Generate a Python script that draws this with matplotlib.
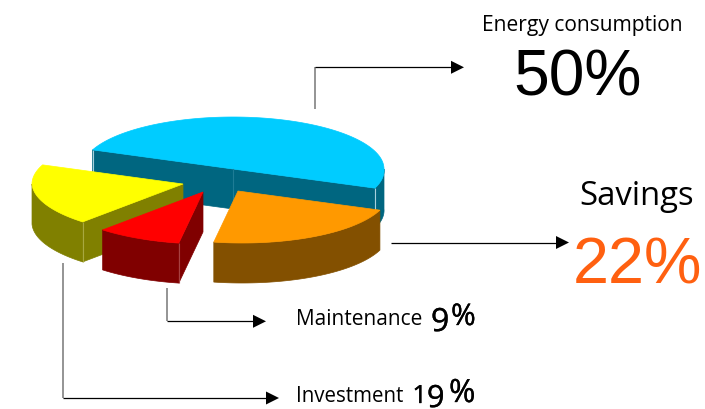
import numpy as np
import matplotlib
matplotlib.use('Agg')
import matplotlib.pyplot as plt
import matplotlib.patheffects as pe
from matplotlib.patches import Polygon

categories = ['Energy consumption', 'Investment', 'Maintenance', 'Savings']
shares = [50, 19, 9, 22]
top_colors = ['#00CCFF', '#FFFF00', '#FF0000', '#FF9900']
side_colors = ['#006680', '#808000', '#800000', '#835000']
seam_colors = ['#A6D0DC', '#A8A840', '#A84040', '#A88040']

# pie position, all in pixels
cx, cy = 233, 169
rx, ry = 151, 52
depth = 40
skew = 0.08
start_angle = -21.6
explode_x = [0, -50, -30, 5]
explode_y = [0, 15, 23, 22]


def rim(x0, y0, t):
    # point on the ellipse, the near half leans a little to the right
    t = np.radians(t)
    dy = -ry*np.sin(t)
    return x0 + rx*np.cos(t) + skew*np.maximum(dy, 0), y0 + dy


def arc(x0, y0, t0, t1, drop=0):
    x, y = rim(x0, y0, np.linspace(t0, t1, 120))
    return np.column_stack([x, y + drop])


def radial_face(ax, x0, y0, t, color, z):
    ex, ey = rim(x0, y0, t)
    pts = [(x0, y0), (ex, ey), (ex, ey + depth), (x0, y0 + depth)]
    ax.add_patch(Polygon(pts, closed=True, fc=color, ec=color, lw=0.5, zorder=z))


def wedge(ax, x0, y0, t0, t1, top, side, seam, z):
    # radial walls that face the viewer
    show_start = np.sin(np.radians(t0 - 90)) < 0
    show_end = np.sin(np.radians(t1 + 90)) < 0
    if show_start:
        radial_face(ax, x0, y0, t0, side, z)
    if show_end:
        radial_face(ax, x0, y0, t1, side, z)

    # outer wall, only the front half of the ellipse shows
    for lo, hi in [(-180, 0), (180, 360)]:
        a, b = max(t0, lo), min(t1, hi)
        if a < b:
            upper = arc(x0, y0, a, b)
            lower = arc(x0, y0, b, a, depth)
            ax.add_patch(Polygon(np.vstack([upper, lower]), closed=True,
                                 fc=side, ec=side, lw=0.5, zorder=z))

    # lighter seams down the wall corners
    for t, shown in ((t0, show_start), (t1, show_end)):
        if shown:
            ex, ey = rim(x0, y0, t)
            ax.plot([ex, ex], [ey, ey + depth], color=seam, lw=0.8,
                    solid_capstyle='butt', zorder=z)

    pts = np.vstack([[(x0, y0)], arc(x0, y0, t0, t1)])
    ax.add_patch(Polygon(pts, closed=True, fc=top, ec=top, lw=0.5, zorder=z))


def leader(ax, xs, ys):
    # grey riser, black run, solid triangle at the end
    if len(xs) == 3:
        ax.plot(xs[:2], ys[:2], color='#777777', lw=1.1, zorder=10,
                solid_capstyle='butt')
    ax.plot([xs[-2], xs[-1] - 10], ys[-2:], color='black', lw=0.9, zorder=10,
            solid_capstyle='butt')
    tx, ty = xs[-1], ys[-1]
    ax.add_patch(Polygon([(tx - 13, ty - 6.5), (tx, ty), (tx - 13, ty + 6.5)],
                         closed=True, fc='black', ec='none', zorder=10))


fig = plt.figure(figsize=(7.05, 4.09), dpi=100)
ax = fig.add_axes([0, 0, 1, 1])
ax.set_xlim(0, 705)
ax.set_ylim(409, 0)
ax.axis('off')

spans = np.array(shares) / sum(shares) * 360
angle = start_angle
for i in range(len(shares)):
    t0, t1 = angle, angle + spans[i]
    wedge(ax, cx + explode_x[i], cy + explode_y[i], t0, t1,
          top_colors[i], side_colors[i], seam_colors[i], i + 1)
    # the big wedge has a faint crease in the middle of its straight wall
    if i == 0:
        ax.plot([cx, cx], [cy, cy + depth], color='#1F7C95', lw=0.8, zorder=1)
    angle = t1

leader(ax, [315, 315, 464], [109, 67.3, 67.3])
leader(ax, [391, 569], [242.5, 242.5])
leader(ax, [167, 167, 266], [288, 321.3, 321.3])
leader(ax, [62.5, 62.5, 279], [263, 398, 398])

label_font = 'Open Sans'
num_font = 'Liberation Sans'
# small figures look heavier than the regular cut, thicken them a bit
heavy = [pe.withStroke(linewidth=0.25, foreground='black')]

ax.text(482, 31, categories[0], family=label_font, fontsize=15.1, color='black')
ax.text(513.5, 95, f'{shares[0]}%', family=num_font, fontsize=46.2, color='black')
ax.text(579, 205, categories[3], family=label_font, fontsize=23.7, color='black')
ax.text(572.5, 284, f'{shares[3]}%', family=num_font, fontsize=46.5, color='#FF6010')

ax.text(296.5, 325, categories[2], family=label_font, fontsize=15, color='black')
ax.text(431, 331, str(shares[2]), family=label_font, fontsize=23, color='black',
        path_effects=heavy)
ax.text(451, 325, '%', family=label_font, fontsize=21.5, color='black',
        path_effects=heavy)

ax.text(296.5, 402, categories[1], family=label_font, fontsize=14.8, color='black')
ax.text(412.5, 403, str(shares[1])[0], family=label_font, fontsize=18, color='black',
        path_effects=heavy)
ax.text(427, 407, str(shares[1])[1], family=label_font, fontsize=22, color='black',
        path_effects=heavy)
ax.text(449, 402, '%', family=label_font, fontsize=23, color='black',
        path_effects=heavy)

fig.savefig('out.png', dpi=100)
